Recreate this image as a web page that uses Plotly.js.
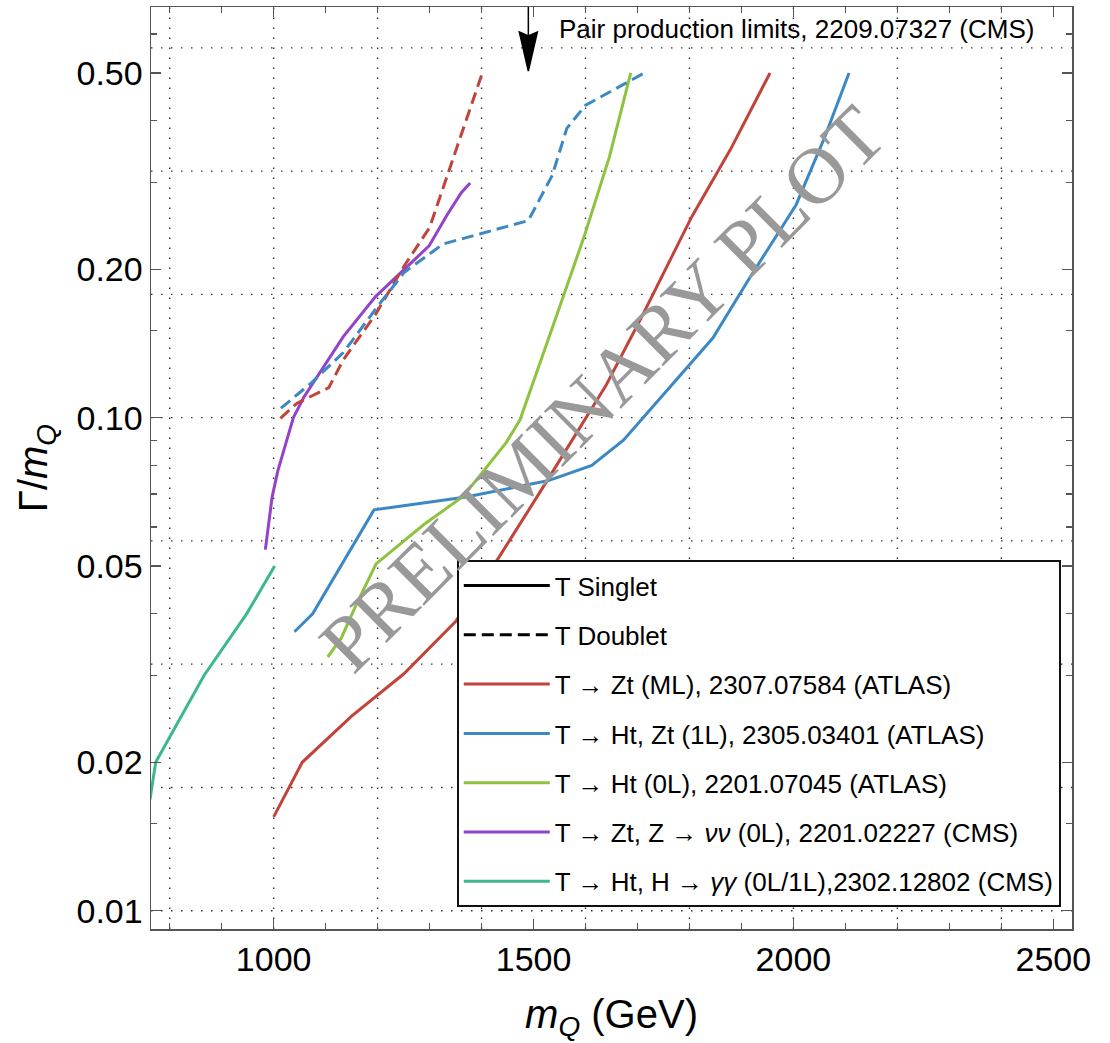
<!DOCTYPE html>
<html><head><meta charset="utf-8">
<script src="https://cdn.plot.ly/plotly-3.0.1.min.js"></script>
<style>html,body{margin:0;padding:0;background:#fff}#chart{width:1110px;height:1043px}</style>
</head><body><div id="chart"></div>
<script>
// ---- data (m_Q in GeV, Gamma/m_Q) ----
const redSolidX  = [1000, 1055, 1150, 1250, 1350, 1433, 1516, 1639, 1708, 1804, 1879, 1955];
const redSolidY  = [0.0155, 0.020, 0.0248, 0.0302, 0.0386, 0.052, 0.0716, 0.116, 0.16, 0.255, 0.35, 0.50];
const blueSolidX = [1040, 1075, 1193, 1370, 1530, 1612, 1673, 1845, 1913, 2005, 2060, 2107];
const blueSolidY = [0.0368, 0.040, 0.065, 0.069, 0.0746, 0.080, 0.090, 0.145, 0.19, 0.27, 0.37, 0.50];
const greenX     = [1104, 1130, 1160, 1197, 1289, 1365, 1447, 1474, 1536, 1598, 1646, 1687];
const greenY     = [0.0327, 0.0357, 0.042, 0.0505, 0.0607, 0.0693, 0.0889, 0.099, 0.152, 0.234, 0.338, 0.50];
const purpleX    = [984, 997, 1008, 1024, 1038, 1058, 1093, 1134, 1196, 1251, 1299, 1333, 1361, 1378];
const purpleY    = [0.054, 0.069, 0.078, 0.089, 0.100, 0.110, 0.125, 0.146, 0.176, 0.200, 0.223, 0.257, 0.286, 0.299];
const tealX      = [762, 773, 866, 948, 1002];
const tealY      = [0.0168, 0.020, 0.030, 0.040, 0.050];
const redDashX   = [1013, 1045, 1106, 1134, 1196, 1251, 1300, 1400];
const redDashY   = [0.0997, 0.107, 0.115, 0.131, 0.162, 0.203, 0.243, 0.495];
const blueDashX  = [1014, 1072, 1134, 1196, 1251, 1326, 1398, 1490, 1536, 1564, 1600, 1670, 1713];
const blueDashY  = [0.1045, 0.1175, 0.1355, 0.166, 0.197, 0.225, 0.236, 0.251, 0.31, 0.386, 0.43, 0.471, 0.50];

const seriesNames = [
  'T Singlet',
  'T Doublet',
  'T \u2192 Zt (ML), 2307.07584 (ATLAS)',
  'T \u2192 Ht, Zt (1L), 2305.03401 (ATLAS)',
  'T \u2192 Ht (0L), 2201.07045 (ATLAS)',
  'T \u2192 Zt, Z \u2192 <i>\u03bd\u03bd</i> (0L), 2201.02227 (CMS)',
  'T \u2192 Ht, H \u2192 <i>\u03b3\u03b3</i> (0L/1L),2302.12802 (CMS)'
];
const xTickVals = [1000, 1500, 2000, 2500];
const xTickText = ['1000', '1500', '2000', '2500'];
const xMinorVals = [800, 900, 1100, 1200, 1300, 1400, 1600, 1700, 1800, 1900, 2100, 2200, 2300, 2400];
const yTickVals = [0.01, 0.02, 0.05, 0.1, 0.2, 0.5];
const yTickText = ['0.01', '0.02', '0.05', '0.10', '0.20', '0.50'];
const yMinorVals = [0.015, 0.03, 0.04, 0.06, 0.07, 0.08, 0.09, 0.15, 0.3, 0.4, 0.6];
const gridX = [800, 1000, 1200, 1400, 1600, 1800, 2000, 2200, 2400];
const gridYExp = [-2, -1.75, -1.5, -1.25, -1, -0.75, -0.5, -0.25];
const pairLimitMass = 1490;
const annotationText = 'Pair production limits, 2209.07327 (CMS)';

// ---- style ----
const C = {red:'#c1443a', blue:'#3b88c4', green:'#8dc33f', purple:'#9443c9', teal:'#3bb88f'};
const FONT = 'Liberation Sans, Arial, Helvetica, sans-serif';
const LW = 3;
const DASH = '12px,6px';
const xRange = [764, 2536];
const yRange = [-2.0371, -0.1672];

function tr(x, y, name, color, dash, group, show) {
  return {x: x, y: y, type: 'scatter', mode: 'lines', name: name,
    line: {color: color, width: LW, dash: dash || 'solid'},
    legendgroup: group, showlegend: show, hoverinfo: 'skip'};
}
const traces = [
  tr([null], [null], seriesNames[0], '#000', 'solid', 'g0', true),
  tr([null], [null], seriesNames[1], '#000', DASH, 'g1', true),
  tr(redSolidX, redSolidY, seriesNames[2], C.red, 'solid', 'g2', true),
  tr(blueSolidX, blueSolidY, seriesNames[3], C.blue, 'solid', 'g3', true),
  tr(greenX, greenY, seriesNames[4], C.green, 'solid', 'g4', true),
  tr(purpleX, purpleY, seriesNames[5], C.purple, 'solid', 'g5', true),
  tr(tealX, tealY, seriesNames[6], C.teal, 'solid', 'g6', true),
  tr(redDashX, redDashY, 'T doublet, Zt (ML)', C.red, DASH, 'g2', false),
  tr(blueDashX, blueDashY, 'T doublet, Ht, Zt (1L)', C.blue, DASH, 'g3', false)
];

const shapes = [];
gridX.forEach(v => shapes.push({type:'line', xref:'x', yref:'paper', x0:v, x1:v, y0:0, y1:1, layer:'below',
  line:{color:'#333', width:1.4, dash:'1.5px,8.5px'}}));
gridYExp.forEach(e => { const p = (e - yRange[0]) / (yRange[1] - yRange[0]);
  shapes.push({type:'line', xref:'paper', yref:'paper', x0:0, x1:1, y0:p, y1:p, layer:'below',
  line:{color:'#333', width:1.4, dash:'1.5px,8.5px'}}); });
shapes.push({type:'path', xref:'x', yref:'paper', xsizemode:'pixel', ysizemode:'pixel',
  xanchor: pairLimitMass, yanchor: 1,
  path:'M0,0L0,-30M-9,-25L0,-29L9,-25L0,-64Z', fillcolor:'#000', line:{color:'#000', width:1.5}});

const axisCommon = {showgrid:false, zeroline:false, showline:true, linecolor:'#555', linewidth:1.5,
  mirror:'allticks', ticks:'inside', ticklen:10, tickwidth:1.3, tickcolor:'#555',
  tickfont:{family:FONT, size:34, color:'#000'}};

const layout = {
  width:1110, height:1043,
  margin:{l:151, r:38, t:7, b:114},
  paper_bgcolor:'#fff', plot_bgcolor:'#fff',
  showlegend:true,
  xaxis: Object.assign({}, axisCommon, {type:'linear', range:xRange, tickmode:'array',
    tickvals:xTickVals, ticktext:xTickText,
    minor:{tickmode:'array', tickvals:xMinorVals, ticks:'inside', ticklen:6, tickwidth:1.2, tickcolor:'#555', showgrid:false},
    title:{text:'<i>m</i><sub><i>Q</i></sub> (GeV)', font:{family:FONT, size:40, color:'#000'}, standoff:22}}),
  yaxis: Object.assign({}, axisCommon, {type:'log', range:yRange, tickmode:'array',
    tickvals:yTickVals, ticktext:yTickText,
    minor:{tickmode:'array', tickvals:yMinorVals, ticks:'inside', ticklen:6, tickwidth:1.2, tickcolor:'#555', showgrid:false},
    title:{text:'\u0393/<i>m</i><sub><i>Q</i></sub>', font:{family:FONT, size:40, color:'#000'}, standoff:16}}),
  legend:{x:0.332, y:0.4001, xanchor:'left', yanchor:'top', bgcolor:'#fff',
    bordercolor:'#111', borderwidth:2, font:{family:FONT, size:26, color:'#000'},
    traceorder:'grouped', tracegroupgap:12.5, itemwidth:86},
  shapes: shapes,
  annotations:[
    {xref:'paper', yref:'paper', x:0.441, y:0.9758, xanchor:'left', yanchor:'middle', showarrow:false,
     text: annotationText, font:{family:FONT, size:26, color:'#000'}},
    {xref:'paper', yref:'paper', x:0.49, y:0.5855, xanchor:'center', yanchor:'middle', showarrow:false,
     text:'PRELIMINARY PLOT', textangle:-45, font:{family:'Liberation Serif, Times New Roman, serif', size:80, color:'#999999'}}
  ]
};

Plotly.newPlot('chart', traces, layout, {displayModeBar:false, staticPlot:true});
</script></body></html>
